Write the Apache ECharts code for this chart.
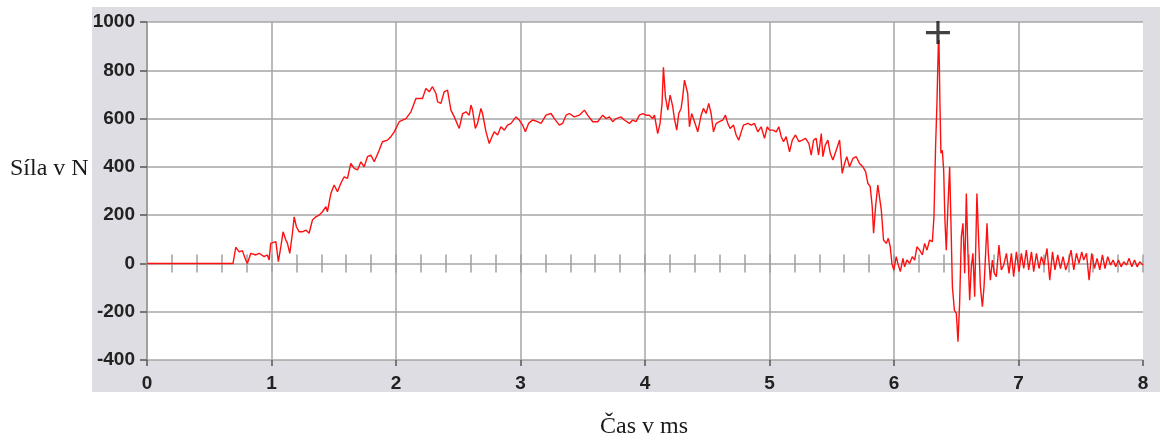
<!DOCTYPE html>
<html>
<head>
<meta charset="utf-8">
<script src="https://cdn.jsdelivr.net/npm/echarts@6/dist/echarts.min.js"></script>
<style>html,body{margin:0;padding:0;background:#fff;}#c{width:1160px;height:441px;}</style>
</head>
<body>
<div id="c"></div>
<script>
// time in ms
var timeMs = [0,0.691,0.713,0.740,0.766,0.793,0.806,0.834,0.874,0.900,0.941,0.967,0.981,0.994,1.035,1.055,1.075,1.093,1.115,1.128,1.147,1.168,1.182,1.200,1.222,1.248,1.276,1.302,1.329,1.356,1.383,1.409,1.437,1.449,1.477,1.503,1.530,1.557,1.584,1.610,1.637,1.664,1.691,1.718,1.744,1.771,1.798,1.825,1.865,1.891,1.932,1.959,1.986,2.026,2.080,2.120,2.160,2.213,2.240,2.267,2.293,2.321,2.334,2.361,2.387,2.414,2.441,2.468,2.508,
2.535,2.562,2.588,2.602,2.615,2.637,2.655,2.682,2.695,2.723,2.749,2.771,2.789,2.816,2.843,2.870,2.896,2.924,2.964,2.990,3.017,3.039,3.065,3.097,3.137,3.165,3.205,3.245,3.272,3.312,3.338,3.366,3.392,3.432,3.473,3.513,3.539,3.580,3.620,3.660,3.687,3.714,3.740,3.768,3.808,3.834,3.875,3.901,3.928,3.955,3.982,4.009,4.035,4.061,4.076,4.102,4.121,
4.137,4.148,4.164,4.183,4.202,4.223,4.236,4.255,4.271,4.290,4.303,4.317,4.330,4.343,4.357,4.375,4.391,4.411,4.424,4.451,4.469,4.491,4.512,4.531,4.550,4.572,4.598,4.625,4.646,4.665,4.684,4.711,4.732,4.753,4.773,4.791,4.807,4.826,4.853,4.879,4.906,4.933,4.960,4.982,5.000,5.027,5.054,5.075,5.094,5.113,5.134,5.161,5.183,5.209,5.236,5.263,5.289,5.316,5.335,5.354,5.375,5.394,5.416,5.429,5.448,5.469,5.488,5.509,5.536,5.563,5.584,5.603,5.621,5.643,5.670,5.697,5.723,5.750,5.772,5.790,5.809,5.825,5.836,5.852,5.870,5.884,5.898,5.916,5.938,5.954,5.970,5.983,5.999,
6.018,6.031,6.051,6.072,6.085,6.104,6.125,6.147,6.166,6.184,6.206,6.228,6.246,6.265,6.286,6.308,6.321,6.334,6.345,6.356,6.361,6.369,6.377,6.388,6.399,6.409,6.420,6.433,6.447,6.457,6.469,6.485,6.501,6.514,6.527,6.541,6.554,6.568,6.581,6.594,6.608,6.621,6.634,6.648,6.666,6.680,6.694,6.710,6.723,6.736,6.747,6.758,6.774,6.790,6.806,
6.822,6.843,6.862,6.881,6.903,6.924,6.943,6.961,6.983,7.004,7.023,7.042,7.063,7.082,7.104,7.122,7.144,7.165,7.184,7.205,7.229,7.251,7.273,7.293,7.315,7.337,7.358,7.379,7.401,7.422,7.444,7.465,7.486,7.508,7.524,7.546,7.567,7.588,7.610,7.631,7.653,7.674,7.695,7.717,7.739,7.760,7.781,7.803,7.824,7.846,7.868,7.888,7.910,7.932,7.953,7.974,8.0];
// force in N
var forceN = [0,0,67,48,53,14,0,42,35,42,28,35,14,83,90,7,69,131,97,83,42,125,193,152,131,131,138,125,180,193,200,214,235,214,290,325,297,332,359,352,414,394,387,421,400,442,449,421,469,504,511,525,545,587,600,628,683,683,725,711,732,704,669,663,711,718,635,607,559,
621,628,614,656,635,559,580,642,621,545,497,525,545,532,566,552,573,580,607,594,573,545,580,594,587,580,614,621,600,573,580,614,621,607,614,635,614,587,587,614,600,607,587,600,607,594,580,594,587,614,621,614,614,600,614,538,580,
663,812,690,635,697,649,600,552,621,642,690,759,766,704,566,621,628,566,545,614,642,621,663,621,545,580,587,594,614,580,559,573,532,511,545,573,566,580,573,580,545,566,518,566,552,552,545,566,525,504,525,462,511,532,504,511,518,497,449,511,518,449,538,442,490,511,456,428,469,511,373,414,442,400,435,442,414,400,380,332,318,235,125,235,325,318,221,97,83,104,69,0,-27,
28,0,-34,21,-14,14,0,28,14,69,55,35,83,55,97,90,193,483,663,911,925,663,456,469,387,180,55,235,400,180,-97,-193,-207,-324,-166,111,166,-41,290,42,-152,-14,42,-138,290,97,-97,-179,-97,42,166,42,-69,14,-41,
-55,76,-27,-7,42,-41,42,-55,48,-34,42,-21,55,-27,48,-34,42,-21,28,-7,62,-69,48,-27,35,-21,28,-27,7,55,-27,42,0,48,14,42,-69,42,-21,21,-27,35,-21,28,-7,14,-14,14,-14,7,-7,21,-14,14,-14,7,-7];
// cursor marker (peak)
var cursorPoint = [6.353, 956];
var xTicks = [0,1,2,3,4,5,6,7,8];
var yTicks = [-400,-200,0,200,400,600,800,1000];

var lineData = timeMs.map(function(t,i){return [t, forceN[i]];});
var chart = echarts.init(document.getElementById('c'), null, {renderer:'canvas'});
var gridColor = '#a6a6a6';
var labelStyle = {color:'#222', fontWeight:'bold', fontSize:19, fontFamily:'"Liberation Sans", Arial, sans-serif'};
chart.setOption({
  animation:false,
  backgroundColor:'#ffffff',
  graphic:[
    {type:'rect', z:-10, shape:{x:92, y:7, width:1068, height:385}, style:{fill:'#dedde3'}},
    {type:'text', left:10, top:157, style:{text:'Síla v N', font:'24px "Liberation Serif", "Times New Roman", serif', fill:'#1a1a1a'}},
    {type:'text', left:600, top:415, style:{text:'Čas v ms', font:'24px "Liberation Serif", "Times New Roman", serif', fill:'#1a1a1a'}}
  ],
  grid:{left:147, right:17, top:22, bottom:81, show:true, backgroundColor:'#ffffff', borderWidth:0},
  xAxis:[{
    type:'value', min:xTicks[0], max:xTicks[xTicks.length-1], interval:1,
    axisLine:{show:false, onZero:false},
    axisTick:{show:true, length:6, lineStyle:{color:'#555', width:1.5}},
    axisLabel:Object.assign({margin:14, formatter:function(v){return String(v);}}, labelStyle),
    splitLine:{show:true, showMaxLine:false, lineStyle:{color:gridColor, width:1.5}}
  },{
    type:'value', min:0, max:8, interval:0.2, position:'bottom',
    axisLine:{show:false, onZero:true, onZeroAxisIndex:0},
    axisTick:{show:true, inside:false, length:9, lineStyle:{color:'#a0a0a0', width:1.5}},
    axisLabel:{show:false}, splitLine:{show:false}
  },{
    type:'value', min:0, max:8, interval:0.2, position:'top',
    axisLine:{show:false, onZero:true, onZeroAxisIndex:0},
    axisTick:{show:true, inside:false, length:9, lineStyle:{color:'#a0a0a0', width:1.5}},
    axisLabel:{show:false}, splitLine:{show:false}
  }],
  yAxis:{
    type:'value', min:yTicks[0], max:yTicks[yTicks.length-1], interval:200,
    axisLine:{show:true, lineStyle:{color:'#999', width:1.5}},
    axisTick:{show:true, length:7, lineStyle:{color:'#555', width:1.5}},
    axisLabel:Object.assign({margin:12, formatter:function(v){return String(v);}}, labelStyle),
    splitLine:{show:true, lineStyle:{color:gridColor, width:1.5}}
  },
  series:[{
    type:'line', data:lineData, showSymbol:false, symbol:'none',
    lineStyle:{color:'#ff1010', width:1.4}, z:3
  },{
    type:'scatter', data:[cursorPoint], z:4,
    symbol:'path://M10.4,0H13.6V24H10.4Z M0,10.4H24V13.6H0Z',
    symbolSize:[24,23], itemStyle:{color:'#111'}
  }]
});
</script>
</body>
</html>
